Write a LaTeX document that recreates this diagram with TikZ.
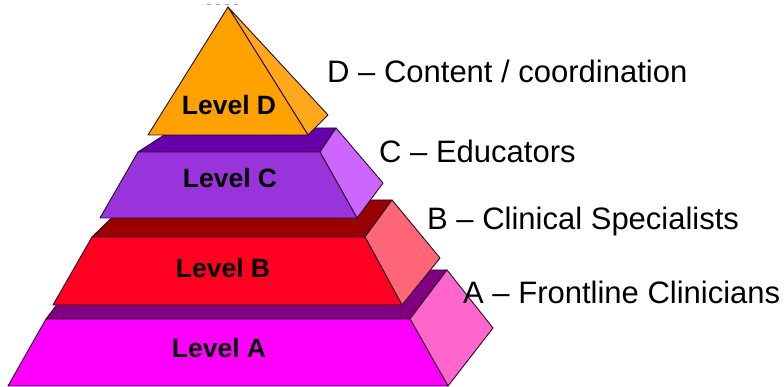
\documentclass[tikz,border=0pt]{standalone}
\usepackage{fontspec}
\setmainfont{Liberation Sans}
\definecolor{Afront}{HTML}{FF00FF}
\definecolor{Aside}{HTML}{FF66CC}
\definecolor{Atop}{HTML}{800080}
\definecolor{Bfront}{HTML}{FF0020}
\definecolor{Bside}{HTML}{FF6677}
\definecolor{Btop}{HTML}{990000}
\definecolor{Cfront}{HTML}{9933DC}
\definecolor{Cside}{HTML}{CC66FF}
\definecolor{Ctop}{HTML}{6600AA}
\definecolor{Dfront}{HTML}{FFA200}
\definecolor{Dside}{HTML}{FFA81A}
\definecolor{edge}{HTML}{2A0A2A}
\begin{document}
\begin{tikzpicture}[x=1pt,y=-1pt,
  face/.style={draw=edge,line width=0.9pt,line join=round},
  levellabel/.style={anchor=base,inner sep=0pt,font=\fontsize{26.5}{26.5}\selectfont\bfseries},
  sidelabel/.style={anchor=base west,inner sep=0pt,font=\fontsize{31}{31}\selectfont}]
\useasboundingbox (0,0) rectangle (784,387);
% Level A
\coordinate (A1) at (8,386);
\coordinate (A2) at (448,386);
\coordinate (A3) at (410,319);
\coordinate (A4) at (46,319);
\coordinate (A5) at (493,328);
\coordinate (A6) at (447,270);
\coordinate (A7) at (83,270);
% Level B
\coordinate (B1) at (53,305);
\coordinate (B2) at (402,305);
\coordinate (B3) at (365,237);
\coordinate (B4) at (92,237);
\coordinate (B5) at (440,258);
\coordinate (B6) at (392,200);
\coordinate (B7) at (130,200);
% Level C
\coordinate (C1) at (100,218);
\coordinate (C2) at (357,218);
\coordinate (C3) at (320,152);
\coordinate (C4) at (138,152);
\coordinate (C5) at (383,183);
\coordinate (C6) at (336,128);
\coordinate (C7) at (175,128);
% Level D
\coordinate (D1) at (228,7);
\coordinate (D2) at (148,135);
\coordinate (D3) at (308,135);
\coordinate (D4) at (328,115);
% small marks above the apex
\coordinate (M1) at (207,4.5);
\coordinate (M2) at (242,4.5);
\draw[gray!70,line width=0.8pt,dash pattern=on 4pt off 5pt] (M1) -- (M2);

% draw Level A
\filldraw[face,fill=Atop] (A4) -- (A3) -- (A6) -- (A7) -- cycle;
\filldraw[face,fill=Aside] (A3) -- (A2) -- (A5) -- (A6) -- cycle;
\filldraw[face,fill=Afront] (A1) -- (A2) -- (A3) -- (A4) -- cycle;
% draw Level B
\filldraw[face,fill=Btop] (B4) -- (B3) -- (B6) -- (B7) -- cycle;
\filldraw[face,fill=Bside] (B3) -- (B2) -- (B5) -- (B6) -- cycle;
\filldraw[face,fill=Bfront] (B1) -- (B2) -- (B3) -- (B4) -- cycle;
% draw Level C
\filldraw[face,fill=Ctop] (C4) -- (C3) -- (C6) -- (C7) -- cycle;
\filldraw[face,fill=Cside] (C3) -- (C2) -- (C5) -- (C6) -- cycle;
\filldraw[face,fill=Cfront] (C1) -- (C2) -- (C3) -- (C4) -- cycle;
% draw Level D
\filldraw[face,fill=Dside] (D1) -- (D3) -- (D4) -- cycle;
\filldraw[face,fill=Dfront] (D1) -- (D2) -- (D3) -- cycle;

% level labels
\node[levellabel] (lD) at (229,115) {Level D};
\node[levellabel] (lC) at (230,188) {Level C};
\node[levellabel] (lB) at (223,277) {Level B};
\node[levellabel] (lA) at (219,357) {Level A};

% side labels
\node[sidelabel] (tD) at (327,83) {D – Content / coordination};
\node[sidelabel] (tC) at (379,163) {C – Educators};
\node[sidelabel] (tB) at (427,230) {B – Clinical Specialists};
\node[sidelabel] (tA) at (463,303) {A – Frontline Clinicians};
\end{tikzpicture}
\end{document}
